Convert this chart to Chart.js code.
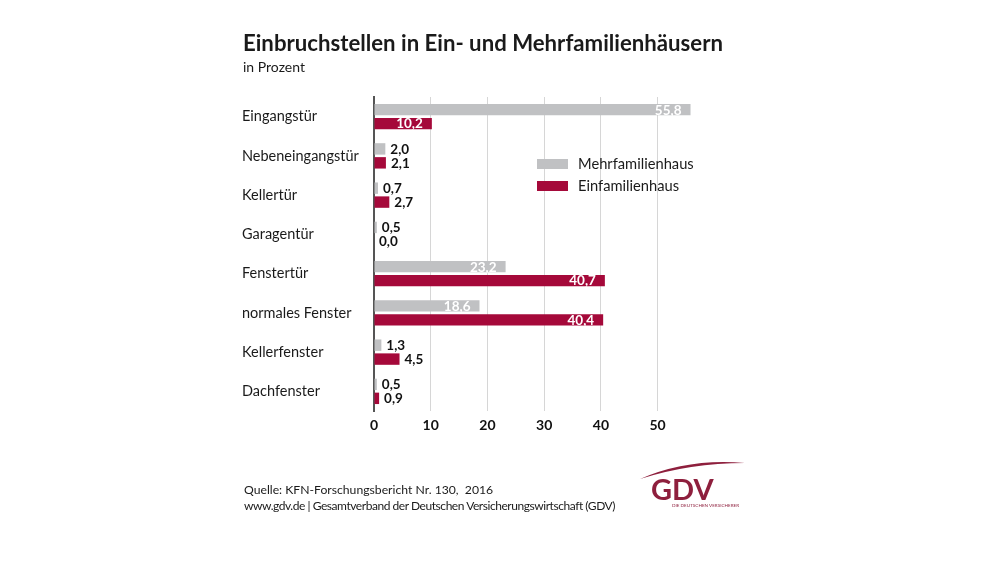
<!DOCTYPE html>
<html><head><meta charset="utf-8">
<script src="https://cdn.jsdelivr.net/npm/chart.js@4"></script>
<style>
html,body{margin:0;padding:0;background:#fff;}
#wrap{position:relative;width:999px;height:562px;overflow:hidden;font-family:Lato,"Open Sans",sans-serif;color:#1a1a1a;}
#c{position:absolute;left:0;top:0;}
.t{position:absolute;white-space:nowrap;}
</style></head><body>
<div id="wrap">
<canvas id="c" width="999" height="562"></canvas>
<div class="t" style="left:243px;top:29px;font-size:22.2px;font-weight:bold;">Einbruchstellen in Ein- und Mehrfamilienhäusern</div>
<div class="t" style="left:243px;top:58px;font-size:14px;">in Prozent</div>
<div class="t" style="left:244px;top:482px;font-size:12.2px;">Quelle: KFN-Forschungsbericht Nr. 130,&nbsp; 2016</div>
<div class="t" style="left:244px;top:498px;font-size:12px;letter-spacing:-0.45px;">www.gdv.de | Gesamtverband der Deutschen Versicherungswirtschaft (GDV)</div>
<svg class="t" style="left:630px;top:455px;" width="130" height="60" viewBox="0 0 130 60">
  <path d="M10 24 Q58 3 115 8 Q60 8 10 24 Z" fill="#8e1f3d"/>
  <text x="21" y="45" font-family="Lato,sans-serif" font-size="29" font-weight="bold" fill="#8e1f3d">GDV</text>
  <text x="42" y="52" font-family="Lato,sans-serif" font-size="4.6" fill="#8e1f3d">DIE DEUTSCHEN VERSICHERER</text>
</svg>
</div>
<script>
const categories = ["Eingangstür","Nebeneingangstür","Kellertür","Garagentür","Fenstertür","normales Fenster","Kellerfenster","Dachfenster"];
const mehrfamilienhaus = [55.8, 2.0, 0.7, 0.5, 23.2, 18.6, 1.3, 0.5];
const einfamilienhaus = [10.2, 2.1, 2.7, 0.0, 40.7, 40.4, 4.5, 0.9];
const seriesNames = ["Mehrfamilienhaus","Einfamilienhaus"];
const xTicks = [0,10,20,30,40,50];

const GRAY = "#c0c1c3", RED = "#a5093a";

const valueLabels = {
  id: "valueLabels",
  afterDatasetsDraw(chart) {
    const ctx = chart.ctx;
    ctx.save();
    ctx.font = "bold 13.5px Lato, 'Open Sans', sans-serif";
    ctx.textBaseline = "middle";
    chart.data.datasets.forEach((ds, di) => {
      const meta = chart.getDatasetMeta(di);
      meta.data.forEach((bar, i) => {
        const v = ds.data[i];
        const txt = v.toFixed(1).replace(".", ",");
        if (v > 5) {
          ctx.fillStyle = "#ffffff";
          ctx.textAlign = "right";
          ctx.fillText(txt, bar.x - 9, bar.y + 0.5);
        } else {
          ctx.fillStyle = "#111111";
          ctx.textAlign = "left";
          ctx.fillText(txt, bar.x + 5, bar.y + 0.5);
        }
      });
    });
    ctx.restore();
  }
};

const customLegend = {
  id: "customLegend",
  afterDraw(chart) {
    const ctx = chart.ctx;
    ctx.save();
    ctx.font = "14.7px Lato, 'Open Sans', sans-serif";
    ctx.textBaseline = "middle";
    ctx.textAlign = "left";
    chart.data.datasets.forEach((ds, i) => {
      const y = 164 + i * 22;
      ctx.fillStyle = ds.backgroundColor;
      ctx.fillRect(537, y - 5, 31, 10);
      ctx.fillStyle = "#1a1a1a";
      ctx.fillText(ds.label, 578, y);
    });
    ctx.restore();
  }
};

new Chart(document.getElementById("c"), {
  type: "bar",
  data: {
    labels: categories,
    datasets: [
      { label: seriesNames[0], data: mehrfamilienhaus, backgroundColor: GRAY },
      { label: seriesNames[1], data: einfamilienhaus, backgroundColor: RED }
    ]
  },
  options: {
    indexAxis: "y",
    responsive: false,
    animation: false,
    devicePixelRatio: 1,
    layout: { padding: { left: 242, top: 97, right: 296, bottom: 121 } },
    datasets: { bar: { categoryPercentage: 0.71, barPercentage: 0.82 } },
    plugins: { legend: { display: false }, tooltip: { enabled: false } },
    scales: {
      x: {
        min: 0, max: 58,
        afterBuildTicks(s) { s.ticks = xTicks.map(v => ({ value: v })); },
        afterFit(s) { s.height = 30; },
        grid: {
          drawTicks: false,
          color: (c) => c.tick && c.tick.value === 0 ? "rgba(0,0,0,0)" : "#d6d6d6",
          lineWidth: 1
        },
        border: { display: false },
        ticks: { padding: 6, color: "#111", font: { family: "Lato, 'Open Sans', sans-serif", size: 14, weight: "bold" } }
      },
      y: {
        afterFit(s) { s.width = 132; },
        grid: { display: false, drawTicks: false },
        border: { display: true, color: "#555", width: 2 },
        ticks: { crossAlign: "far", padding: 0, color: "#1a1a1a", font: { family: "Lato, 'Open Sans', sans-serif", size: 14.5 } }
      }
    }
  },
  plugins: [valueLabels, customLegend]
});
</script>
</body></html>
